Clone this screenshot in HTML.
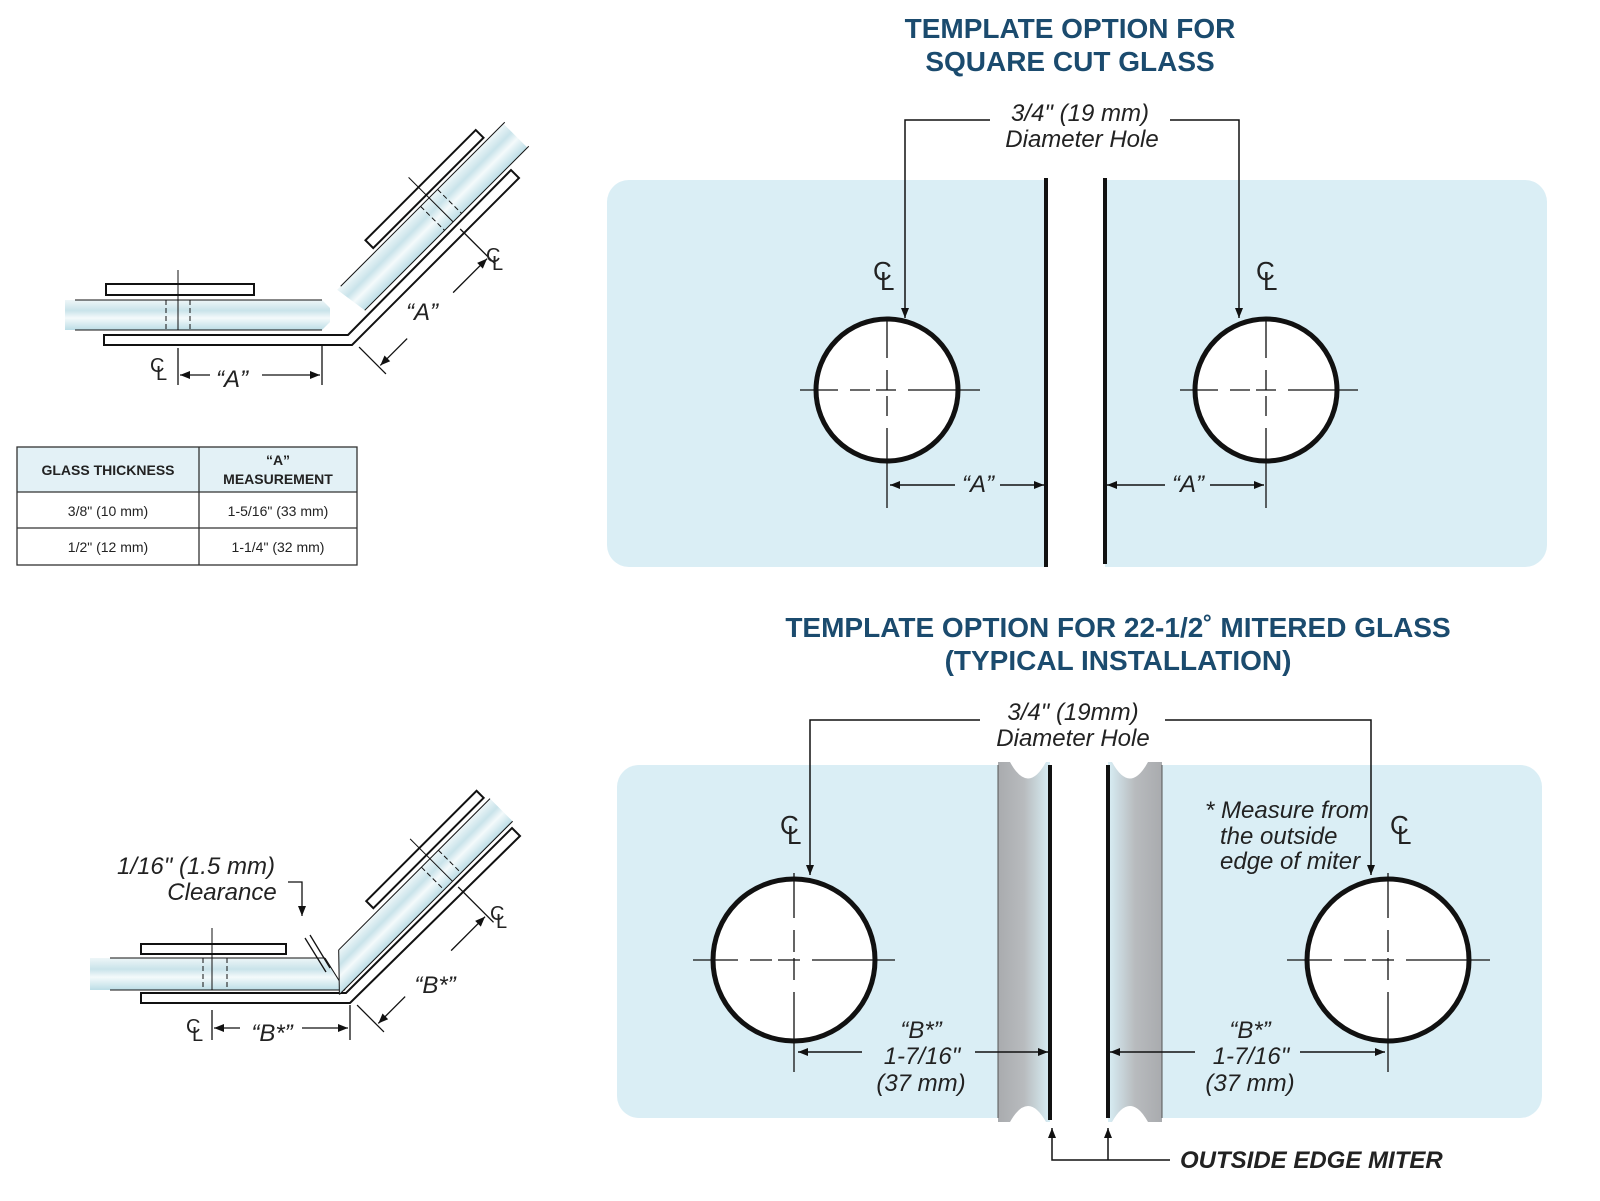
<!DOCTYPE html>
<html><head><meta charset="utf-8"><style>
html,body{margin:0;padding:0;background:#fff}
svg{display:block}
text{font-family:"Liberation Sans",sans-serif}
.it{font-style:italic;font-size:24px;fill:#222}
.ttl{font-weight:bold;font-size:28px;fill:#1b4b6e}
.cl{font-size:26px;fill:#222}
</style></head><body>
<svg width="1600" height="1201" viewBox="0 0 1600 1201" xmlns="http://www.w3.org/2000/svg">
<defs>
<marker id="ar" viewBox="0 0 10 10" refX="10" refY="5" markerWidth="16" markerHeight="10" markerUnits="userSpaceOnUse" orient="auto"><path d="M0,1 L10,5 L0,9 z" fill="#111"/></marker>
<linearGradient id="gl" x1="0" y1="0" x2="0" y2="1">
<stop offset="0" stop-color="#eef6f8"/><stop offset="0.35" stop-color="#c9e3ea"/><stop offset="0.6" stop-color="#f4fafb"/><stop offset="1" stop-color="#bcdde6"/></linearGradient>
<linearGradient id="gL" x1="0" y1="0" x2="1" y2="0">
<stop offset="0" stop-color="#a9abae"/><stop offset="0.5" stop-color="#b8bbbe"/><stop offset="1" stop-color="#d8eef5"/></linearGradient>
<linearGradient id="gR" x1="0" y1="0" x2="1" y2="0">
<stop offset="0" stop-color="#d8eef5"/><stop offset="0.5" stop-color="#b8bbbe"/><stop offset="1" stop-color="#a9abae"/></linearGradient>
</defs>

<text class="ttl" x="1070" y="38" text-anchor="middle">TEMPLATE OPTION FOR</text>
<text class="ttl" x="1070" y="71" text-anchor="middle">SQUARE CUT GLASS</text>

<rect x="607" y="180" width="940" height="387" rx="22" fill="#daeef5"/>
<rect x="1046" y="176" width="59" height="395" fill="#fff"/>
<line x1="1046" y1="178" x2="1046" y2="567" stroke="#111" stroke-width="4"/>
<line x1="1105" y1="178" x2="1105" y2="564" stroke="#111" stroke-width="4"/>

<text class="it" x="1080" y="121" text-anchor="middle">3/4" (19 mm)</text>
<text class="it" x="1082" y="147" text-anchor="middle">Diameter Hole</text>
<polyline points="990,120 905,120 905,318" fill="none" stroke="#111" stroke-width="1.5" marker-end="url(#ar)"/>
<polyline points="1170,120 1239,120 1239,318" fill="none" stroke="#111" stroke-width="1.5" marker-end="url(#ar)"/>

<g stroke="#111">
<circle cx="887" cy="390" r="71" fill="#fff" stroke-width="5"/>
<circle cx="1266" cy="390" r="71" fill="#fff" stroke-width="5"/>
<g stroke-width="1.3">
<line x1="800" y1="390" x2="980" y2="390" stroke-dasharray="38,12,20,6,20,12,72"/>
<line x1="1180" y1="390" x2="1358" y2="390" stroke-dasharray="38,12,20,6,20,12,72"/>
<line x1="887" y1="320" x2="887" y2="508" stroke-dasharray="38,12,20,6,20,12,80"/>
<line x1="1266" y1="320" x2="1266" y2="508" stroke-dasharray="38,12,20,6,20,12,80"/>
</g>
<line x1="955" y1="485" x2="890" y2="485" stroke-width="1.5" marker-end="url(#ar)"/>
<line x1="1000" y1="485" x2="1044" y2="485" stroke-width="1.5" marker-end="url(#ar)"/>
<line x1="1165" y1="485" x2="1107" y2="485" stroke-width="1.5" marker-end="url(#ar)"/>
<line x1="1210" y1="485" x2="1264" y2="485" stroke-width="1.5" marker-end="url(#ar)"/>
</g>
<text class="it" x="978" y="492" text-anchor="middle">“A”</text>
<text class="it" x="1188" y="492" text-anchor="middle">“A”</text>
<text class="cl" x="873" y="280">C</text><text class="cl" x="880" y="290">L</text>
<text class="cl" x="1256" y="280">C</text><text class="cl" x="1263" y="290">L</text>

<text class="ttl" x="1118" y="637" text-anchor="middle">TEMPLATE OPTION FOR 22-1/2˚ MITERED GLASS</text>
<text class="ttl" x="1118" y="670" text-anchor="middle">(TYPICAL  INSTALLATION)</text>

<rect x="617" y="765" width="925" height="353" rx="22" fill="#daeef5"/>
<rect x="998" y="762" width="52" height="360" fill="url(#gL)"/>
<rect x="1108" y="762" width="54" height="360" fill="url(#gR)"/>
<rect x="1050" y="760" width="58" height="365" fill="#fff"/>
<path d="M1010,762 Q1028,795 1046,762 Z M1010,1122 Q1028,1090 1046,1122 Z M1112,762 Q1130,795 1148,762 Z M1112,1122 Q1130,1090 1148,1122 Z" fill="#fff"/>
<line x1="998" y1="765" x2="998" y2="1118" stroke="#555" stroke-width="1"/>
<line x1="1162" y1="765" x2="1162" y2="1118" stroke="#555" stroke-width="1"/>
<line x1="1050" y1="765" x2="1050" y2="1120" stroke="#111" stroke-width="4"/>
<line x1="1108" y1="765" x2="1108" y2="1118" stroke="#111" stroke-width="4"/>

<text class="it" x="1073" y="720" text-anchor="middle">3/4" (19mm)</text>
<text class="it" x="1073" y="746" text-anchor="middle">Diameter Hole</text>
<polyline points="980,720 810,720 810,875" fill="none" stroke="#111" stroke-width="1.5" marker-end="url(#ar)"/>
<polyline points="1165,720 1371,720 1371,875" fill="none" stroke="#111" stroke-width="1.5" marker-end="url(#ar)"/>
<text class="cl" x="780" y="834">C</text><text class="cl" x="787" y="844">L</text>
<text class="cl" x="1390" y="834">C</text><text class="cl" x="1397" y="844">L</text>
<text class="it" x="1205" y="818">* Measure from</text>
<text class="it" x="1220" y="844">the outside</text>
<text class="it" x="1220" y="869">edge of miter</text>

<g stroke="#111">
<circle cx="794" cy="960" r="81" fill="#fff" stroke-width="5"/>
<circle cx="1388" cy="960" r="81" fill="#fff" stroke-width="5"/>
<line x1="693" y1="960" x2="895" y2="960" stroke-width="1.3" stroke-dasharray="45,12,22,6,22,12,90"/>
<line x1="1287" y1="960" x2="1490" y2="960" stroke-width="1.3" stroke-dasharray="45,12,22,6,22,12,90"/>
<line x1="794" y1="873" x2="794" y2="1072" stroke-width="1.3" stroke-dasharray="45,12,22,6,22,12,90"/>
<line x1="1388" y1="873" x2="1388" y2="1072" stroke-width="1.3" stroke-dasharray="45,12,22,6,22,12,90"/>
<line x1="862" y1="1052" x2="798" y2="1052" stroke-width="1.5" marker-end="url(#ar)"/>
<line x1="975" y1="1052" x2="1048" y2="1052" stroke-width="1.5" marker-end="url(#ar)"/>
<line x1="1195" y1="1052" x2="1110" y2="1052" stroke-width="1.5" marker-end="url(#ar)"/>
<line x1="1300" y1="1052" x2="1385" y2="1052" stroke-width="1.5" marker-end="url(#ar)"/>
<polyline points="1170,1160 1052,1160 1052,1128" fill="none" stroke-width="1.5" marker-end="url(#ar)"/>
<line x1="1108" y1="1160" x2="1108" y2="1128" stroke-width="1.5" marker-end="url(#ar)"/>
</g>
<text class="it" x="921" y="1038" text-anchor="middle">“B*”</text>
<text class="it" x="922" y="1064" text-anchor="middle">1-7/16"</text>
<text class="it" x="921" y="1091" text-anchor="middle">(37 mm)</text>
<text class="it" x="1250" y="1038" text-anchor="middle">“B*”</text>
<text class="it" x="1251" y="1064" text-anchor="middle">1-7/16"</text>
<text class="it" x="1250" y="1091" text-anchor="middle">(37 mm)</text>
<text x="1180" y="1168" style="font-weight:bold;font-style:italic;font-size:24px" fill="#222">OUTSIDE EDGE MITER</text>

<g stroke="#111" fill="none">
<path d="M65,300 L322,300 L330,308 L330,322 L322,330 L65,330 Z" fill="url(#gl)" stroke="none"/>
<line x1="75" y1="300" x2="322" y2="300" stroke-width="1"/>
<line x1="75" y1="330" x2="322" y2="330" stroke-width="1"/>
<rect x="106" y="284" width="148" height="11" fill="#fff" stroke-width="2"/>
<line x1="178" y1="270" x2="178" y2="330" stroke-width="1"/>
<line x1="166" y1="300" x2="166" y2="330" stroke-dasharray="5,3"/>
<line x1="190" y1="300" x2="190" y2="330" stroke-dasharray="5,3"/>
<path d="M104,335 L348,335 L511,170 L519,178 L352,345 L104,345 Z" fill="#fff" stroke-width="2"/>
<g transform="translate(352,340) rotate(-45)">
<path d="M25,-46 L30,-12 L260,-12 L260,-46 Z" fill="url(#gl)" stroke="none"/>
<line x1="30" y1="-46" x2="262" y2="-46" stroke-width="1"/>
<line x1="30" y1="-12" x2="262" y2="-12" stroke-width="1"/>
<rect x="80" y="-61" width="156" height="11" fill="#fff" stroke-width="2"/>
<line x1="155" y1="-75" x2="155" y2="-12" stroke-width="1"/>
<line x1="143" y1="-46" x2="143" y2="-12" stroke-dasharray="5,3"/>
<line x1="167" y1="-46" x2="167" y2="-12" stroke-dasharray="5,3"/>
<line x1="0" y1="10" x2="0" y2="48" stroke-width="1.3"/>
<line x1="155" y1="-2" x2="155" y2="48" stroke-width="1.3"/>
<line x1="40" y1="38" x2="2" y2="38" stroke-width="1.3" marker-end="url(#ar)"/>
<line x1="105" y1="38" x2="153" y2="38" stroke-width="1.3" marker-end="url(#ar)"/>
</g>
<line x1="178" y1="348" x2="178" y2="385" stroke-width="1.3"/>
<line x1="322" y1="345" x2="322" y2="385" stroke-width="1.3"/>
<line x1="210" y1="375" x2="180" y2="375" stroke-width="1.3" marker-end="url(#ar)"/>
<line x1="262" y1="375" x2="320" y2="375" stroke-width="1.3" marker-end="url(#ar)"/>
</g>
<text class="it" x="232" y="387" text-anchor="middle">“A”</text>
<text class="it" x="422" y="320" text-anchor="middle">“A”</text>
<text style="font-size:20px" x="150" y="372" fill="#222">C</text><text style="font-size:20px" x="156" y="380" fill="#222">L</text>
<text style="font-size:20px" x="486" y="262" fill="#222">C</text><text style="font-size:20px" x="492" y="270" fill="#222">L</text>

<rect x="17" y="447" width="340" height="45" fill="#e3f1f6"/>
<g stroke="#333" stroke-width="1.3" fill="none">
<rect x="17" y="447" width="340" height="118"/>
<line x1="17" y1="492" x2="357" y2="492"/>
<line x1="17" y1="528" x2="357" y2="528"/>
<line x1="199" y1="447" x2="199" y2="565"/>
</g>
<g font-size="14" fill="#222">
<text x="108" y="475" text-anchor="middle" font-weight="bold">GLASS THICKNESS</text>
<text x="278" y="465" text-anchor="middle" font-weight="bold">“A”</text>
<text x="278" y="484" text-anchor="middle" font-weight="bold">MEASUREMENT</text>
<text x="108" y="516" text-anchor="middle">3/8" (10 mm)</text>
<text x="278" y="516" text-anchor="middle">1-5/16" (33 mm)</text>
<text x="108" y="552" text-anchor="middle">1/2" (12 mm)</text>
<text x="278" y="552" text-anchor="middle">1-1/4" (32 mm)</text>
</g>

<g stroke="#111" fill="none">
<path d="M90,958 L325,958 L345,990 L90,990 Z" fill="url(#gl)" stroke="none"/>
<line x1="110" y1="958" x2="325" y2="958" stroke-width="1"/>
<line x1="110" y1="990" x2="345" y2="990" stroke-width="1"/>
<line x1="325" y1="958" x2="345" y2="990" stroke-width="1"/>
<rect x="141" y="944" width="145" height="10" fill="#fff" stroke-width="2"/>
<line x1="212" y1="928" x2="212" y2="990" stroke-width="1"/>
<line x1="203" y1="958" x2="203" y2="990" stroke-dasharray="5,3"/>
<line x1="227" y1="958" x2="227" y2="990" stroke-dasharray="5,3"/>
<path d="M141,993 L346,993 L512,828 L520,836 L350,1003 L141,1003 Z" fill="#fff" stroke-width="2"/>
<g transform="translate(350,998) rotate(-45)">
<path d="M-5,-10 L26,-42 L240,-42 L240,-10 Z" fill="url(#gl)" stroke="none"/>
<line x1="26" y1="-42" x2="240" y2="-42" stroke-width="1"/>
<line x1="-5" y1="-10" x2="240" y2="-10" stroke-width="1"/>
<line x1="-5" y1="-10" x2="26" y2="-42" stroke-width="1"/>
<rect x="80" y="-57" width="156" height="10" fill="#fff" stroke-width="2"/>
<line x1="155" y1="-70" x2="155" y2="-10" stroke-width="1"/>
<line x1="143" y1="-42" x2="143" y2="-10" stroke-dasharray="5,3"/>
<line x1="167" y1="-42" x2="167" y2="-10" stroke-dasharray="5,3"/>
<line x1="0" y1="10" x2="0" y2="48" stroke-width="1.3"/>
<line x1="155" y1="-2" x2="155" y2="48" stroke-width="1.3"/>
<line x1="40" y1="38" x2="2" y2="38" stroke-width="1.3" marker-end="url(#ar)"/>
<line x1="105" y1="38" x2="153" y2="38" stroke-width="1.3" marker-end="url(#ar)"/>
</g>
<line x1="310" y1="935" x2="330" y2="968" stroke-width="1.3"/>
<line x1="305" y1="938" x2="326" y2="972" stroke-width="1.3"/>
<polyline points="288,882 302,882 302,916" stroke-width="1.3" marker-end="url(#ar)"/>
<line x1="212" y1="1010" x2="212" y2="1040" stroke-width="1.3"/>
<line x1="350" y1="1005" x2="350" y2="1040" stroke-width="1.3"/>
<line x1="240" y1="1028" x2="214" y2="1028" stroke-width="1.3" marker-end="url(#ar)"/>
<line x1="302" y1="1028" x2="348" y2="1028" stroke-width="1.3" marker-end="url(#ar)"/>
</g>
<text class="it" x="196" y="874" text-anchor="middle">1/16" (1.5 mm)</text>
<text class="it" x="222" y="900" text-anchor="middle">Clearance</text>
<text class="it" x="272" y="1041" text-anchor="middle">“B*”</text>
<text class="it" x="435" y="993" text-anchor="middle">“B*”</text>
<text style="font-size:20px" x="186" y="1033" fill="#222">C</text><text style="font-size:20px" x="192" y="1041" fill="#222">L</text>
<text style="font-size:20px" x="490" y="920" fill="#222">C</text><text style="font-size:20px" x="496" y="928" fill="#222">L</text>
</svg>
</body></html>
